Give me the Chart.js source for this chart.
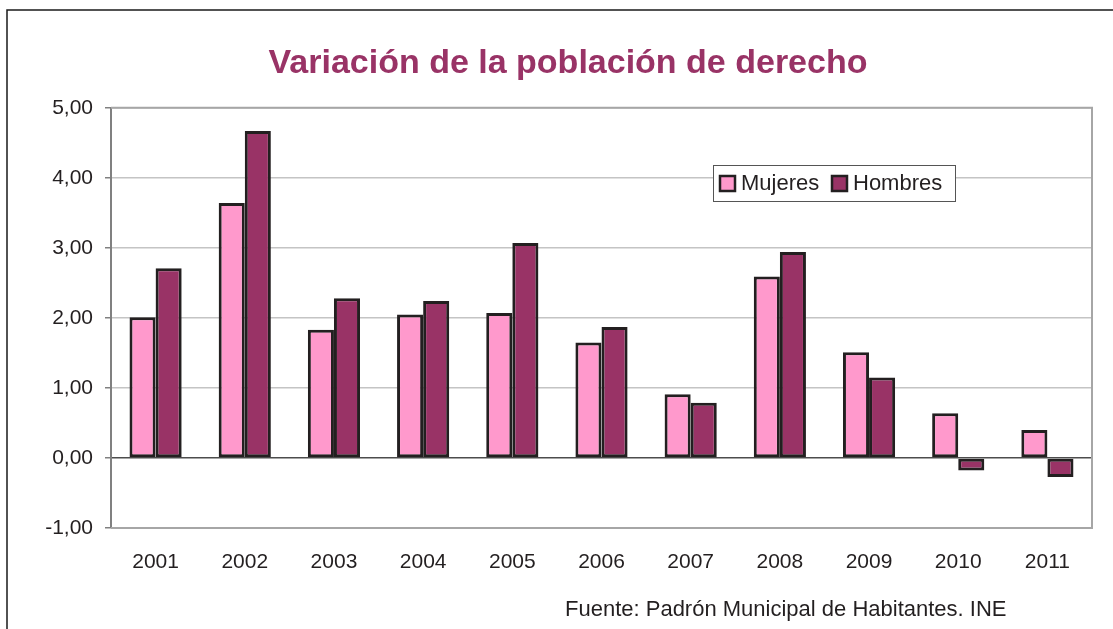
<!DOCTYPE html>
<html>
<head>
<meta charset="utf-8">
<script src="https://cdn.jsdelivr.net/npm/chart.js@4.4.1/dist/chart.umd.min.js"></script>
<style>
  body { margin: 0; background: #fff; }
  #wrap { width: 1113px; height: 629px; }
</style>
</head>
<body>
<div id="wrap"><canvas id="myChart" width="1113" height="629"></canvas></div>
<script>
// datos
const years = ['2001', '2002', '2003', '2004', '2005', '2006', '2007', '2008', '2009', '2010', '2011'];
const mujeres = [2.01, 3.64, 1.83, 2.05, 2.07, 1.65, 0.91, 2.59, 1.51, 0.64, 0.40];
const hombres = [2.71, 4.67, 2.28, 2.24, 3.07, 1.87, 0.79, 2.94, 1.15, -0.18, -0.27];
const seriesNames = ['Mujeres', 'Hombres'];
const titleText = 'Variación de la población de derecho';
const sourceText = 'Fuente: Padrón Municipal de Habitantes. INE';

const pink = '#ff99cc';
const purple = '#993366';
const edge = '#231f20';

// marco, leyenda y fuente
const decorations = {
    id: 'decorations',
    beforeDatasetsDraw(chart) {
        const { ctx, chartArea: a } = chart;
        ctx.save();
        ctx.strokeStyle = '#a6a6a6';
        ctx.lineWidth = 2;
        ctx.beginPath();
        ctx.moveTo(a.left, a.top);
        ctx.lineTo(a.right, a.top);
        ctx.lineTo(a.right, a.bottom);
        ctx.lineTo(a.left, a.bottom);
        ctx.stroke();
        ctx.restore();
    },
    afterDraw(chart) {
        const ctx = chart.ctx;
        ctx.save();
        // marco exterior
        ctx.strokeStyle = '#1a1a1a';
        ctx.lineWidth = 1.5;
        ctx.beginPath();
        ctx.moveTo(7, 629);
        ctx.lineTo(7, 10);
        ctx.lineTo(1113, 10);
        ctx.stroke();

        // leyenda
        ctx.fillStyle = '#fff';
        ctx.fillRect(713, 165, 242, 36);
        ctx.strokeStyle = '#555';
        ctx.lineWidth = 1;
        ctx.strokeRect(713.5, 165.5, 242, 36);
        const ds = chart.data.datasets;
        const items = [{ x: 720, tx: 741 }, { x: 832, tx: 853 }];
        ctx.font = '22px "Liberation Sans", Arial, sans-serif';
        ctx.textBaseline = 'middle';
        items.forEach((it, i) => {
            ctx.fillStyle = ds[i].backgroundColor;
            ctx.fillRect(it.x, 176, 15, 15);
            ctx.strokeStyle = edge;
            ctx.lineWidth = 2.5;
            ctx.strokeRect(it.x, 176, 15, 15);
            ctx.fillStyle = '#231f20';
            ctx.fillText(ds[i].label, it.tx, 184);
        });

        // fuente
        ctx.font = '22px "Liberation Sans", Arial, sans-serif';
        ctx.textBaseline = 'alphabetic';
        ctx.fillStyle = '#231f20';
        ctx.fillText(sourceText, 565, 616);
        ctx.restore();
    }
};

const ctx = document.getElementById('myChart').getContext('2d');
Chart.defaults.font.family = '"Liberation Sans", Arial, sans-serif';
Chart.defaults.color = '#231f20';

new Chart(ctx, {
    type: 'bar',
    data: {
        labels: years,
        datasets: [{
            label: seriesNames[0],
            data: mujeres,
            backgroundColor: pink,
            borderColor: edge,
            borderWidth: 3,
            borderSkipped: false
        }, {
            label: seriesNames[1],
            data: hombres,
            backgroundColor: purple,
            borderColor: edge,
            borderWidth: 3,
            borderSkipped: false
        }]
    },
    options: {
        responsive: false,
        animation: false,
        layout: { padding: { left: 44, right: 21, top: 0, bottom: 0 } },
        datasets: {
            bar: { categoryPercentage: 0.585, barPercentage: 1.0 }
        },
        scales: {
            x: {
                grid: { display: false, drawTicks: false },
                border: { display: false },
                ticks: { font: { size: 21 }, padding: 22, maxRotation: 0 },
                afterFit(scale) { scale.height = 101; }
            },
            y: {
                min: -1,
                max: 5,
                ticks: {
                    stepSize: 1,
                    font: { size: 21 },
                    padding: 12,
                    callback: v => v.toFixed(2).replace('.', ',')
                },
                grid: {
                    color: c => (c.tick && c.tick.value === 0) ? '#4d4d4d' : '#c4c4c4',
                    lineWidth: 1.5,
                    tickLength: 6,
                    tickColor: '#808080'
                },
                border: { display: true, color: '#808080', width: 2 },
                afterFit(scale) { scale.width = 67; }
            }
        },
        plugins: {
            legend: { display: false },
            tooltip: { enabled: false },
            title: {
                display: true,
                text: titleText,
                color: purple,
                font: { size: 34, weight: 'bold' },
                padding: { top: 43, bottom: 24 }
            }
        }
    },
    plugins: [decorations]
});
</script>
</body>
</html>
